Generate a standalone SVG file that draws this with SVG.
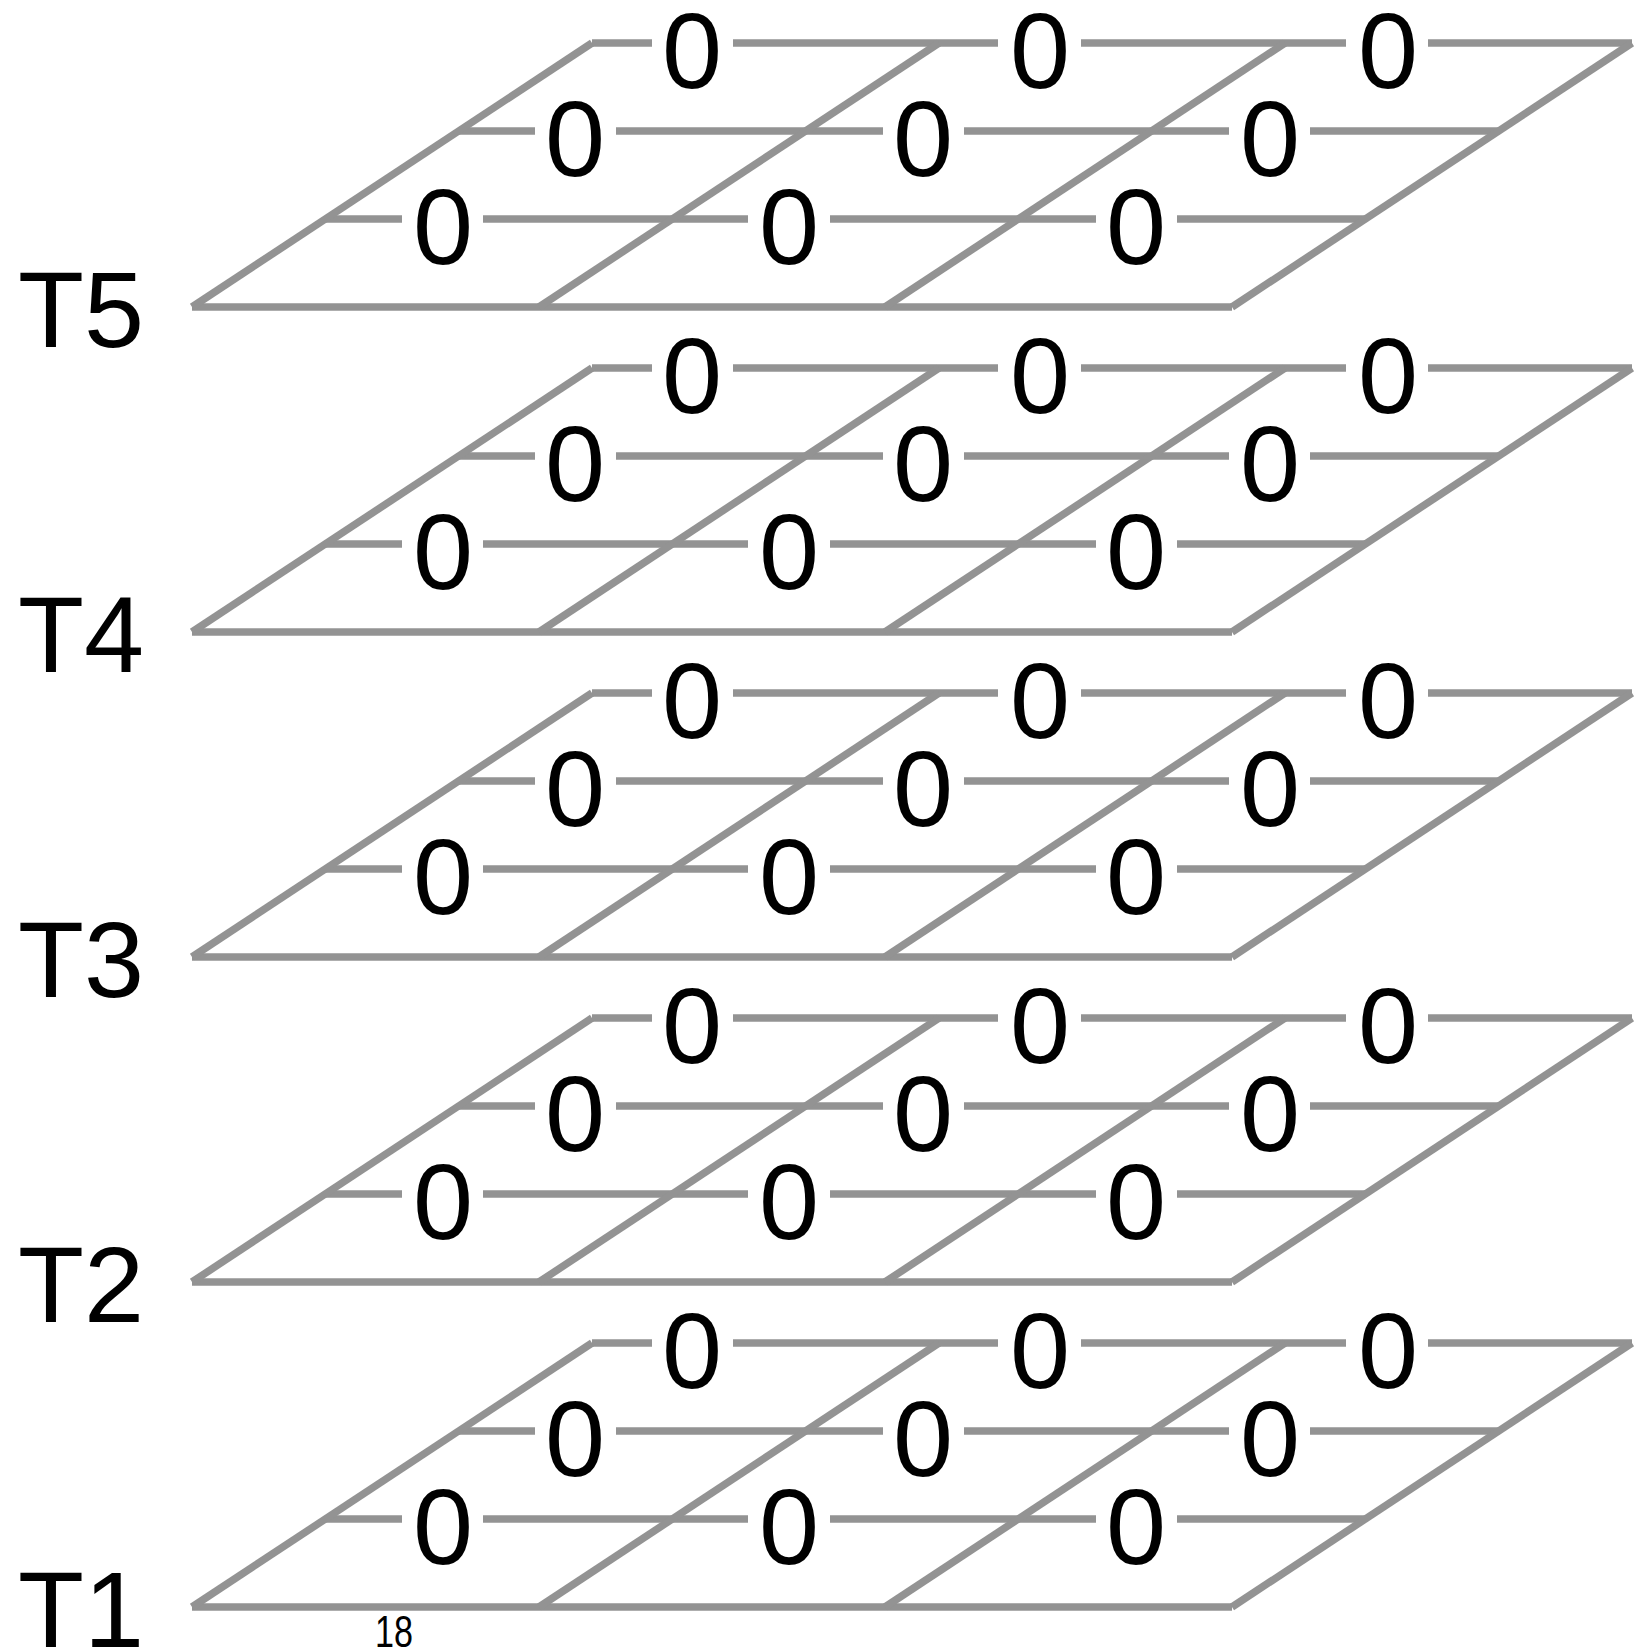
<svg xmlns="http://www.w3.org/2000/svg" width="1649" height="1651" viewBox="0 0 1649 1651">
<style>
.g line{stroke:#939393;stroke-width:7.5;stroke-linecap:butt;fill:none}
.z{font-family:"Liberation Sans",Arial,sans-serif;font-size:108px;fill:#000;text-anchor:middle}
.t{font-family:"Liberation Sans",Arial,sans-serif;font-size:108px;fill:#000}
.p{font-family:"Liberation Sans",Arial,sans-serif;font-size:45px;fill:#000}
</style>
<rect width="1649" height="1651" fill="#fff"/>
<defs>
<g id="grid" class="g">
<line x1="592" y1="43" x2="652" y2="43"/><line x1="733" y1="43" x2="998" y2="43"/><line x1="1081" y1="43" x2="1346" y2="43"/><line x1="1428" y1="43" x2="1632" y2="43"/>
<line x1="459" y1="131" x2="535" y2="131"/><line x1="616" y1="131" x2="883" y2="131"/><line x1="964" y1="131" x2="1229" y2="131"/><line x1="1310" y1="131" x2="1499" y2="131"/>
<line x1="326" y1="219" x2="402" y2="219"/><line x1="483" y1="219" x2="748" y2="219"/><line x1="830" y1="219" x2="1096" y2="219"/><line x1="1177" y1="219" x2="1366" y2="219"/>
<line x1="192" y1="307" x2="1232" y2="307"/>
<line x1="192" y1="307" x2="592" y2="43"/><line x1="539" y1="307" x2="939" y2="43"/><line x1="885" y1="307" x2="1285" y2="43"/><line x1="1232" y1="307" x2="1632" y2="43"/>
</g>
</defs>
<g id="connectors">
<use href="#grid"/>
<use href="#grid" transform="translate(0,325)"/>
<use href="#grid" transform="translate(0,650)"/>
<use href="#grid" transform="translate(0,975)"/>
<use href="#grid" transform="translate(0,1300)"/>
</g>
<g id="plane-T5">
<text class="t" x="18" y="347">T5</text>
<text class="z" x="692" y="88">0</text><text class="z" x="1040" y="88">0</text><text class="z" x="1388" y="88">0</text>
<text class="z" x="575" y="176">0</text><text class="z" x="923" y="176">0</text><text class="z" x="1270" y="176">0</text>
<text class="z" x="443" y="264">0</text><text class="z" x="789" y="264">0</text><text class="z" x="1136" y="264">0</text>
</g>
<g id="plane-T4" transform="translate(0,325)">
<text class="t" x="18" y="347">T4</text>
<text class="z" x="692" y="88">0</text><text class="z" x="1040" y="88">0</text><text class="z" x="1388" y="88">0</text>
<text class="z" x="575" y="176">0</text><text class="z" x="923" y="176">0</text><text class="z" x="1270" y="176">0</text>
<text class="z" x="443" y="264">0</text><text class="z" x="789" y="264">0</text><text class="z" x="1136" y="264">0</text>
</g>
<g id="plane-T3" transform="translate(0,650)">
<text class="t" x="18" y="347">T3</text>
<text class="z" x="692" y="88">0</text><text class="z" x="1040" y="88">0</text><text class="z" x="1388" y="88">0</text>
<text class="z" x="575" y="176">0</text><text class="z" x="923" y="176">0</text><text class="z" x="1270" y="176">0</text>
<text class="z" x="443" y="264">0</text><text class="z" x="789" y="264">0</text><text class="z" x="1136" y="264">0</text>
</g>
<g id="plane-T2" transform="translate(0,975)">
<text class="t" x="18" y="347">T2</text>
<text class="z" x="692" y="88">0</text><text class="z" x="1040" y="88">0</text><text class="z" x="1388" y="88">0</text>
<text class="z" x="575" y="176">0</text><text class="z" x="923" y="176">0</text><text class="z" x="1270" y="176">0</text>
<text class="z" x="443" y="264">0</text><text class="z" x="789" y="264">0</text><text class="z" x="1136" y="264">0</text>
</g>
<g id="plane-T1" transform="translate(0,1300)">
<text class="t" x="18" y="347">T1</text>
<text class="z" x="692" y="88">0</text><text class="z" x="1040" y="88">0</text><text class="z" x="1388" y="88">0</text>
<text class="z" x="575" y="176">0</text><text class="z" x="923" y="176">0</text><text class="z" x="1270" y="176">0</text>
<text class="z" x="443" y="264">0</text><text class="z" x="789" y="264">0</text><text class="z" x="1136" y="264">0</text>
</g>
<g id="page-number">
<text class="p" x="375" y="1647" textLength="38" lengthAdjust="spacingAndGlyphs">18</text>
</g>
</svg>
